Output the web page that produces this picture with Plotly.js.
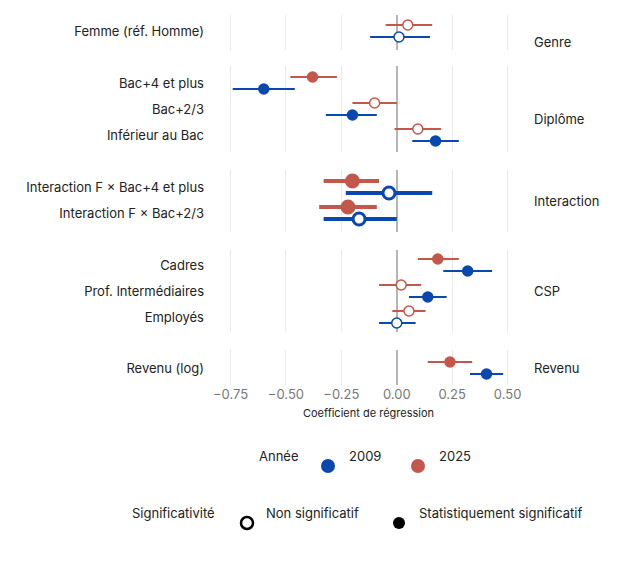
<style>body{margin:0;padding:0}</style>
<script src="https://cdn.plot.ly/plotly-3.0.1.min.js"></script>
<div id="c" style="width:636px;height:568px"></div>
<script>
const panels = ["Genre","Diplôme","Interaction","CSP","Revenu"];
const labels = [["Femme (réf. Homme)"],["Bac+4 et plus","Bac+2/3","Inférieur au Bac"],["Interaction F × Bac+4 et plus","Interaction F × Bac+2/3"],["Cadres","Prof. Intermédiaires","Employés"],["Revenu (log)"]];
const est2009 = [[0.01],[-0.60,-0.20,0.175],[-0.035,-0.17],[0.32,0.14,0.0],[0.405]];
const lo2009  = [[-0.12],[-0.74,-0.32,0.07],[-0.23,-0.33],[0.21,0.055,-0.08],[0.33]];
const hi2009  = [[0.15],[-0.46,-0.09,0.28],[0.16,0.0],[0.43,0.225,0.085],[0.48]];
const sig2009 = [[0],[1,1,1],[0,0],[1,1,0],[1]];
const est2025 = [[0.05],[-0.38,-0.10,0.095],[-0.20,-0.22],[0.185,0.02,0.055],[0.24]];
const lo2025  = [[-0.05],[-0.48,-0.20,-0.01],[-0.33,-0.35],[0.095,-0.08,-0.02],[0.14]];
const hi2025  = [[0.16],[-0.27,0.0,0.20],[-0.08,-0.09],[0.28,0.11,0.13],[0.34]];
const sig2025 = [[0],[1,0,0],[1,1],[1,0,0],[1]];
const years = ["2009","2025"];
const colors = {"2009":"#0a48b0","2025":"#c4574b"};
const tickVals = [-0.75,-0.5,-0.25,0,0.25,0.5];
const tickText = ["−0.75","−0.50","−0.25","0.00","0.25","0.50"];

const W=636,H=568;
const pix = [[15,50],[66,152],[170,232],[250,332],[350,385]];
const rowPix = [[31],[83,109,135],[187,213],[265,291,317],[368]];
const fy = p => 1 - p/H;
const xd = [215/W, 522/W];
const data=[], layout={
  width:W,height:H,margin:{l:0,r:0,t:0,b:0},paper_bgcolor:"white",plot_bgcolor:"white",
  showlegend:false,font:{family:"Inter, Open Sans, sans-serif",size:13,color:"#222"},
  shapes:[],annotations:[]
};
panels.forEach((p,i)=>{
  const n=labels[i].length, top=pix[i][0], bot=pix[i][1];
  const r0=rowPix[i][0], step=26;
  const yTop = 1 + (top - r0)/step, yBot = 1 + (bot - r0)/step;
  const ax = i===0?"":String(i+1);
  const off = 6/step;
  const thick = i===2;
  years.forEach((yr,j)=>{
    const e = j? est2025[i]:est2009[i], lo=j?lo2025[i]:lo2009[i], hi=j?hi2025[i]:hi2009[i], sg=j?sig2025[i]:sig2009[i];
    data.push({type:"scatter",mode:"markers",xaxis:"x"+ax,yaxis:"y"+ax,
      x:e, y:e.map((_,k)=>k+1+(j?-off:off)),
      error_x:{type:"data",symmetric:false,array:hi.map((h,k)=>h-e[k]),arrayminus:lo.map((l,k)=>e[k]-l),color:colors[yr],thickness:thick?4:2,width:0},
      marker:{color:sg.map(s=>s?colors[yr]:"white"),size:thick?12:10,symbol:"circle",line:{color:colors[yr],width:thick?3:1.5}},
      hoverinfo:"skip"});
  });
  layout["yaxis"+ax]={domain:[fy(bot),fy(top)],range:[yBot,yTop],anchor:"x"+ax,tickvals:labels[i].map((_,k)=>k+1),ticktext:labels[i],
    showgrid:false,zeroline:false,ticks:"",ticklabelstandoff:10,tickfont:{size:13,color:"#222"},fixedrange:true};
  layout["xaxis"+ax]={domain:xd,range:[-0.82,0.565],anchor:"y"+ax,tickvals:tickVals,ticktext:tickText,showticklabels:i===4,
    showgrid:true,gridcolor:"#ebebeb",gridwidth:1,zeroline:true,zerolinecolor:"#b5b5b5",zerolinewidth:1.5,ticks:"",
    tickfont:{size:13,color:"#777"},fixedrange:true};
  layout.annotations.push({xref:"paper",yref:"paper",x:532/W,y:fy((top+bot)/2),text:p,showarrow:false,xanchor:"left",font:{size:13,color:"#222"}});
});
layout.xaxis5.title={text:"Coefficient de régression",font:{size:11,color:"#222"},standoff:8};
const A=(x,y,t,anc)=>layout.annotations.push({xref:"paper",yref:"paper",x:x/W,y:fy(y),text:t,showarrow:false,xanchor:anc||"left",font:{size:13,color:"#222"}});
const C=(cx,cy,r,fill,line,lw)=>layout.shapes.push({type:"circle",xref:"paper",yref:"paper",x0:(cx-r)/W,x1:(cx+r)/W,y0:fy(cy+r),y1:fy(cy-r),fillcolor:fill,line:{color:line,width:lw}});
A(257,466,"Année"); C(328,466,7,colors["2009"],colors["2009"],0); A(347,466,"2009");
C(418,466,7,colors["2025"],colors["2025"],0); A(437,466,"2025");
A(130,523,"Significativité"); C(247,523,6,"white","black",2.5); A(264,523,"Non significatif");
C(399,523,6,"black","black",0); A(417,523,"Statistiquement significatif");
Plotly.newPlot("c",data,layout,{staticPlot:true});
</script>
